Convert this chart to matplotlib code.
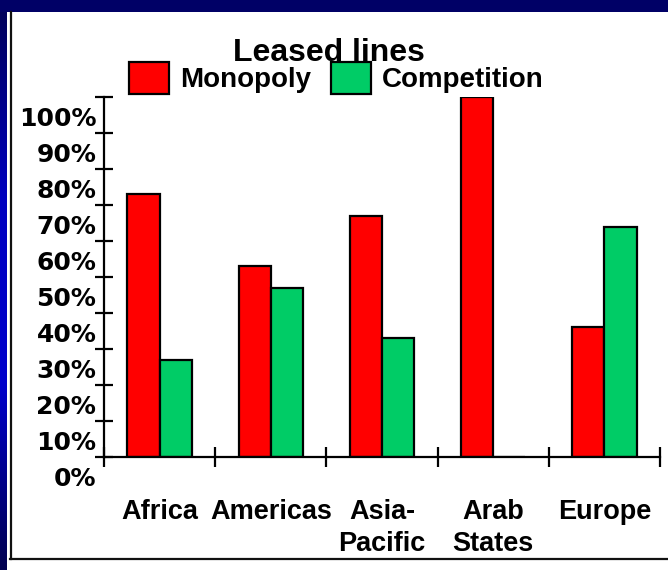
import matplotlib
matplotlib.use("Agg")
import matplotlib.pyplot as plt
import matplotlib.transforms as mtransforms
import numpy as np
from matplotlib.colors import LinearSegmentedColormap
from matplotlib.patches import Patch

# Leased lines market structure by region (% of countries)
regions = ["Africa", "Americas", "Asia-\nPacific", "Arab\nStates", "Europe"]
monopoly = [73, 53, 67, 100, 36]
competition = [27, 47, 33, 0, 64]
ytick_values = list(range(0, 101, 10))
ytick_labels = [f"{v}%" for v in ytick_values]

RED = "#FF0000"
GREEN = "#00CC66"
W, H = 668, 570

fig = plt.figure(figsize=(W / 100, H / 100), dpi=100)
fig.patch.set_facecolor("white")

# slide background: navy band on top, gradient strip on the left
top = fig.add_axes([0, 1 - 12 / H, 1, 12 / H])
top.set_facecolor("#000066")
top.set_xticks([]); top.set_yticks([])
for s in top.spines.values():
    s.set_visible(False)

strip = fig.add_axes([0, 0, 7 / W, 1 - 12 / H])
cmap = LinearSegmentedColormap.from_list(
    "slide", ["#000050", "#0000CC", "#0000C0", "#00005C"])
strip.imshow(np.linspace(0, 1, 200)[:, None], aspect="auto", cmap=cmap,
             origin="lower")
strip.axis("off")

# black frame lines around the chart panel
fig.add_artist(plt.Line2D([10.5 / W, 10.5 / W], [1 - 559 / H, 1 - 12 / H],
                          color="#111111", lw=1.6, transform=fig.transFigure))
fig.add_artist(plt.Line2D([10 / W, 1], [1 - 559 / H, 1 - 559 / H],
                          color="#111111", lw=1.6, transform=fig.transFigure))

ax = fig.add_axes([104 / W, 1 - 457 / H, (660 - 104) / W, 360 / H])
x = np.arange(len(regions)) + 0.5
bw = 0.29
ax.bar(x - bw / 2, monopoly, bw, color=RED, edgecolor="black", lw=1.6,
       label="Monopoly")
ax.bar(x + bw / 2, competition, bw, color=GREEN, edgecolor="black", lw=1.6,
       label="Competition")

ax.set_xlim(0, len(regions))
ax.set_ylim(0, 100)
for side in ["top", "right"]:
    ax.spines[side].set_visible(False)
for side in ["left", "bottom"]:
    ax.spines[side].set_linewidth(1.6)

ax.set_yticks(ytick_values)
ax.set_yticklabels(ytick_labels, fontsize=18, fontweight="bold",
                   family="DejaVu Sans")
ax.tick_params(axis="y", direction="inout", length=13, width=1.6, pad=-1)
# value labels sit half a step below their ticks
offset = mtransforms.ScaledTranslation(0, -19 / 100, fig.dpi_scale_trans)
for lbl in ax.get_yticklabels():
    lbl.set_transform(lbl.get_transform() + offset)

ax.set_xticks(np.arange(len(regions) + 1))
ax.set_xticklabels([])
ax.set_xticks(x, minor=True)
ax.set_xticklabels(regions, minor=True, fontsize=19.5, fontweight="bold",
                   family="Liberation Sans", linespacing=1.3)
ax.tick_params(axis="x", which="major", direction="inout", length=14,
               width=1.6)
ax.tick_params(axis="x", which="minor", length=0, pad=30)

fig.text(329 / W, 1 - 53 / H, "Leased lines", ha="center", va="center",
         fontsize=23, fontweight="bold", family="Liberation Sans")

handles = [Patch(facecolor=RED, edgecolor="black", lw=1.6),
           Patch(facecolor=GREEN, edgecolor="black", lw=1.6)]
fig.legend(handles, ["Monopoly", "Competition"], ncol=2, frameon=False,
           loc="center left", bbox_to_anchor=(129 / W, 1 - 78 / H),
           prop={"family": "Liberation Sans", "weight": "bold", "size": 20},
           handlelength=1.45, handleheight=1.4, handletextpad=0.4,
           columnspacing=0.7, borderpad=0, borderaxespad=0)

fig.savefig("out.png", dpi=100)
